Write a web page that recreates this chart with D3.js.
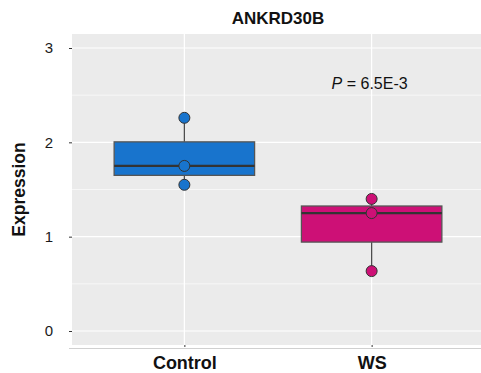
<!DOCTYPE html>
<html>
<head>
<meta charset="utf-8">
<script src="https://cdn.jsdelivr.net/npm/d3@7"></script>
<style>
  body { margin: 0; background: #fff; }
  svg { display: block; font-family: "Liberation Sans", Arial, sans-serif; }
</style>
</head>
<body>
<div class="container"></div>
<script>
(function(){

    var groups = ["Control", "WS"];
    var colors = ["#1874CD", "#CD1076"];
    var controlValues = [2.26, 1.75, 1.55];
    var wsValues = [1.40, 1.25, 0.635];
    var yTicks = [0, 1, 2, 3];
    var title = "ANKRD30B";
    var pLabel = "6.5E-3";

    var values = [controlValues, wsValues];

    var width = 481, height = 373;
    var svg = d3.select(".container").append("svg")
        .attr("width", width)
        .attr("height", height);

    var left = 72, right = 484, top = 34, bottom = 345;

    // ggplot-like discrete scale: 0.6 expansion each side
    var x = d3.scaleLinear().domain([0.4, 2.6]).range([left, right]);
    var y = d3.scaleLinear().domain([0, 3]).range([331, 48]);

    svg.append("rect")
        .attr("x", left).attr("y", top)
        .attr("width", right - left).attr("height", bottom - top)
        .attr("fill", "#ebebeb");

    // minor gridlines
    svg.selectAll("line.minor")
        .data([0.5, 1.5, 2.5])
        .enter().append("line")
        .attr("x1", left).attr("x2", right)
        .attr("y1", function(d) { return y(d); })
        .attr("y2", function(d) { return y(d); })
        .attr("stroke", "#fff").attr("stroke-width", 0.6);

    svg.selectAll("line.major")
        .data(yTicks)
        .enter().append("line")
        .attr("x1", left).attr("x2", right)
        .attr("y1", function(d) { return y(d); })
        .attr("y2", function(d) { return y(d); })
        .attr("stroke", "#fff").attr("stroke-width", 1.2);

    svg.selectAll("line.vmajor")
        .data(groups)
        .enter().append("line")
        .attr("x1", function(d, i) { return x(i + 1); })
        .attr("x2", function(d, i) { return x(i + 1); })
        .attr("y1", top).attr("y2", bottom)
        .attr("stroke", "#fff").attr("stroke-width", 1.2);

    // bottom axis line
    svg.append("line")
        .attr("x1", 69).attr("x2", width)
        .attr("y1", 348.5).attr("y2", 348.5)
        .attr("stroke", "#d0d0d0").attr("stroke-width", 1);

    // y axis
    var yAxis = svg.append("g")
        .attr("transform", "translate(" + left + ",0)")
        .call(d3.axisLeft(y).tickValues(yTicks).tickSize(3).tickPadding(16).tickFormat(d3.format("d")));
    yAxis.select(".domain").remove();
    yAxis.selectAll(".tick line").attr("stroke", "#333");
    yAxis.selectAll("text").attr("font-size", 15).attr("fill", "#1a1a1a")
        .attr("font-family", "Liberation Sans, Arial, sans-serif");

    // x axis
    var xAxis = svg.append("g")
        .attr("transform", "translate(0," + bottom + ")")
        .call(d3.axisBottom(x).tickValues([1, 2]).tickSize(2).tickPadding(9)
            .tickFormat(function(d) { return groups[d - 1]; }));
    xAxis.select(".domain").remove();
    xAxis.selectAll(".tick line").attr("stroke", "#333");
    xAxis.selectAll("text").attr("font-size", 18).attr("font-weight", "bold").attr("fill", "#111")
        .attr("font-family", "Liberation Sans, Arial, sans-serif");

    // boxplots
    var boxW = 0.75;
    groups.forEach(function(g, i) {
        var v = values[i].slice().sort(d3.ascending);
        var q1 = d3.quantile(v, 0.25), med = d3.quantile(v, 0.5), q3 = d3.quantile(v, 0.75);
        var lo = d3.min(v), hi = d3.max(v);
        var cx = x(i + 1);
        var grp = svg.append("g");

        grp.append("line")
            .attr("x1", cx).attr("x2", cx)
            .attr("y1", y(hi)).attr("y2", y(q3))
            .attr("stroke", "#4d4d4d").attr("stroke-width", 1.3);
        grp.append("line")
            .attr("x1", cx).attr("x2", cx)
            .attr("y1", y(q1)).attr("y2", y(lo))
            .attr("stroke", "#4d4d4d").attr("stroke-width", 1.3);
        grp.append("rect")
            .attr("x", x(i + 1 - boxW / 2))
            .attr("width", x(i + 1 + boxW / 2) - x(i + 1 - boxW / 2))
            .attr("y", y(q3))
            .attr("height", y(q1) - y(q3))
            .attr("fill", colors[i])
            .attr("stroke", "#555").attr("stroke-width", 1.3);
        grp.append("line")
            .attr("x1", x(i + 1 - boxW / 2)).attr("x2", x(i + 1 + boxW / 2))
            .attr("y1", y(med)).attr("y2", y(med))
            .attr("stroke", "#333").attr("stroke-width", 2.4);

        grp.selectAll("circle")
            .data(values[i])
            .enter().append("circle")
            .attr("cx", cx)
            .attr("cy", function(d) { return y(d); })
            .attr("r", 5.5)
            .attr("fill", colors[i])
            .attr("stroke", "#333").attr("stroke-width", 1);
    });

    // title
    svg.append("text")
        .attr("x", (left + right) / 2).attr("y", 24)
        .attr("text-anchor", "middle")
        .attr("font-size", 17).attr("font-weight", "bold")
        .attr("fill", "#111")
        .text(title);

    // y label
    svg.append("text")
        .attr("transform", "translate(25," + ((top + bottom) / 2) + ") rotate(-90)")
        .attr("text-anchor", "middle")
        .attr("font-size", 17.5).attr("font-weight", "bold")
        .attr("fill", "#111")
        .text("Expression");

    // p value
    var pt = svg.append("text")
        .attr("x", x(2) - 2).attr("y", 89)
        .attr("text-anchor", "middle")
        .attr("font-size", 16).attr("fill", "#111");
    pt.append("tspan").attr("font-style", "italic").text("P");
    pt.append("tspan").text(" = " + pLabel);

})();
</script>
</body>
</html>
